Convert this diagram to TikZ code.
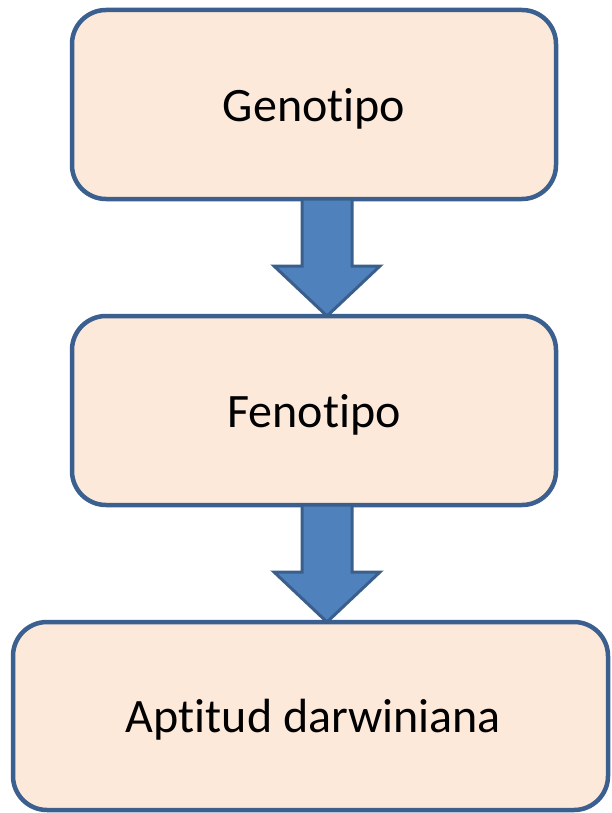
\documentclass[tikz,border=0pt]{standalone}
\usepackage{fontspec}
\setmainfont[Ligatures=NoCommon]{Carlito}
\usetikzlibrary{calc}
\definecolor{boxfill}{HTML}{FCE9DA}
\definecolor{boxline}{HTML}{3B5F8E}
\definecolor{arrfill}{HTML}{4F81BD}
\definecolor{arrline}{HTML}{3A5F8C}
\begin{document}
\begin{tikzpicture}[x=1pt,y=-1pt,
  stagebox/.style={draw=boxline,line width=4.5pt,fill=boxfill,rounded corners=34pt,
    inner sep=0pt,outer sep=0pt,text=black},
  lbl/.style={font=\fontsize{48}{56}\selectfont,text=black,inner sep=0pt},
  blockarrow/.style={draw=arrline,line width=3pt,fill=arrfill,line join=miter}]
\useasboundingbox (0,0) rectangle (611,813);
\node[stagebox,minimum width=484pt,minimum height=189pt] (g) at (314,104.5) {};
\node[stagebox,minimum width=484pt,minimum height=189pt] (f) at (314,410.5) {};
\node[stagebox,minimum width=595pt,minimum height=188pt] (a) at (310.5,716) {};
\node[lbl] (gt) at ($(g.center)+(0,4)$) {Genotipo};
\node[lbl] (ft) at ($(f.center)+(0,4)$) {Fenotipo};
\node[lbl] (at) at ($(a.center)+(3,4)$) {Aptitud darwiniana};
\foreach \s in {g,f}{
  \coordinate (c) at ($(\s.south)+(13,0)$);
  \draw[blockarrow] ($(c)+(-25,0)$) -- ($(c)+(25,0)$) -- ($(c)+(25,67)$) -- ($(c)+(53,67)$) -- ($(c)+(0,117)$) -- ($(c)+(-53,67)$) -- ($(c)+(-25,67)$) -- cycle;
}
\end{tikzpicture}
\end{document}
